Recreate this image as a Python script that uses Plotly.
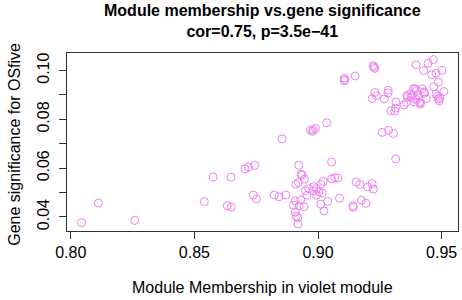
import plotly.graph_objects as go

# Module membership (x) and gene significance (y)
module_membership = [
    0.8044, 0.8112, 0.8259, 0.8540, 0.8576, 0.8648, 0.8633, 0.8649, 0.8705, 0.8719,
    0.8744, 0.8738, 0.8751, 0.8823, 0.8842, 0.8870, 0.8855, 0.8922, 0.8931, 0.8936,
    0.8945, 0.8910, 0.8920, 0.9055, 0.9055, 0.9067, 0.9080, 0.9021, 0.9011, 0.8949,
    0.8962, 0.8983, 0.8994, 0.9004, 0.8981, 0.8956, 0.8994, 0.9017, 0.8930, 0.8908,
    0.8901, 0.8924, 0.8944, 0.9011, 0.9039, 0.9087, 0.9024, 0.8908, 0.8912, 0.8918,
    0.8919, 0.9141, 0.9143, 0.9154, 0.9170, 0.9175, 0.9194, 0.9201, 0.9219, 0.9224,
    0.9314, 0.9259, 0.9285, 0.9305, 0.8969, 0.8977, 0.8981, 0.8990, 0.9035, 0.9106,
    0.9108, 0.9106, 0.9150, 0.9223, 0.9226, 0.9230, 0.9230, 0.9236, 0.9219, 0.9268,
    0.9284, 0.9283, 0.9315, 0.9295, 0.9310, 0.9314, 0.9348, 0.9357, 0.9363, 0.9359,
    0.9374, 0.9386, 0.9393, 0.9398, 0.9378, 0.9397, 0.9390, 0.9411, 0.9413, 0.9415,
    0.9421, 0.9429, 0.9430, 0.9438, 0.9396, 0.9427, 0.9445, 0.9466, 0.9460, 0.9477,
    0.9501, 0.9487, 0.9468, 0.9477, 0.9484, 0.9487, 0.9492, 0.9490, 0.9509, 0.9382,
    0.9404,
]
gene_significance = [
    0.0377, 0.0457, 0.0386, 0.0463, 0.0564, 0.0563, 0.0446, 0.0440, 0.0597, 0.0605,
    0.0612, 0.0490, 0.0474, 0.0490, 0.0483, 0.0490, 0.0720, 0.0612, 0.0575, 0.0572,
    0.0555, 0.0534, 0.0541, 0.0625, 0.0556, 0.0561, 0.0560, 0.0546, 0.0534, 0.0508,
    0.0516, 0.0524, 0.0517, 0.0503, 0.0508, 0.0489, 0.0489, 0.0498, 0.0470, 0.0466,
    0.0448, 0.0445, 0.0442, 0.0452, 0.0464, 0.0477, 0.0425, 0.0420, 0.0403, 0.0397,
    0.0371, 0.0446, 0.0440, 0.0543, 0.0533, 0.0469, 0.0456, 0.0523, 0.0537, 0.0514,
    0.0638, 0.0747, 0.0755, 0.0742, 0.0756, 0.0751, 0.0757, 0.0763, 0.0786, 0.0969,
    0.0962, 0.0959, 0.0978, 0.1020, 0.1014, 0.1009, 0.0910, 0.0897, 0.0885, 0.0884,
    0.0919, 0.0908, 0.0871, 0.0835, 0.0834, 0.0846, 0.0859, 0.0870, 0.0892, 0.0898,
    0.0905, 0.0926, 0.0925, 0.0918, 0.0888, 0.0881, 0.0871, 0.0870, 0.0863, 0.0868,
    0.0925, 0.0912, 0.0907, 0.0885, 0.1024, 0.1000, 0.1030, 0.1045, 0.0983, 0.0989,
    0.1001, 0.0953, 0.0934, 0.0903, 0.0895, 0.0884, 0.0889, 0.0876, 0.0914, 0.0898,
    0.0900,
]

x_tick_vals = [0.80, 0.85, 0.90, 0.95]
x_tick_text = ["0.80", "0.85", "0.90", "0.95"]
y_tick_vals = [0.04, 0.05, 0.06, 0.07, 0.08, 0.09, 0.10]
y_tick_text = ["0.04", "", "0.06", "", "0.08", "", "0.10"]

title_text = "Module membership vs.gene significance<br>cor=0.75, p=3.5e\u221241"
x_title = "Module Membership in violet module"
y_title = "Gene significance for OSfive"

FONT = "Liberation Sans, Arial, Helvetica, sans-serif"
VIOLET = "#EE82EE"
FS = 16

fig = go.Figure()
fig.add_trace(go.Scatter(
    x=module_membership, y=gene_significance, mode="markers",
    marker=dict(symbol="circle-open", size=8, color=VIOLET, line=dict(width=1, color=VIOLET)),
    showlegend=False, hoverinfo="skip",
))

fig.update_layout(
    width=462, height=300,
    margin=dict(l=67, r=4, t=53, b=69),
    paper_bgcolor="white", plot_bgcolor="white",
    font=dict(family=FONT, size=FS, color="black"),
    xaxis=dict(range=[0.7985, 0.9566], tickvals=x_tick_vals, ticktext=x_tick_text,
               showgrid=False, zeroline=False, showline=True, mirror=True,
               linecolor="#333333", linewidth=1, ticks="outside", ticklen=7,
               tickcolor="#333333", tickfont=dict(size=FS)),
    yaxis=dict(range=[0.03426, 0.1072], tickvals=y_tick_vals, ticktext=y_tick_text,
               showgrid=False, zeroline=False, showline=True, mirror=True,
               linecolor="#333333", linewidth=1, ticks="outside", ticklen=7,
               tickcolor="#333333", tickangle=-90, tickfont=dict(size=FS),
               ticklabelstandoff=4),
    annotations=[
        dict(text="<b>" + title_text + "</b>", xref="paper", yref="paper", x=0.5, y=1.18,
             xanchor="center", yanchor="middle", showarrow=False,
             font=dict(family=FONT, size=FS)),
        dict(text=x_title, xref="paper", yref="paper", x=0.5, y=-0.32,
             xanchor="center", yanchor="middle", showarrow=False,
             font=dict(family=FONT, size=FS)),
        dict(text=y_title, xref="paper", yref="paper", x=-0.133, y=0.49,
             xanchor="center", yanchor="middle", showarrow=False, textangle=-90,
             font=dict(family=FONT, size=FS)),
    ],
)

fig.write_html("out.html", config={"displayModeBar": False},
               post_script="document.body.style.margin='0';")
